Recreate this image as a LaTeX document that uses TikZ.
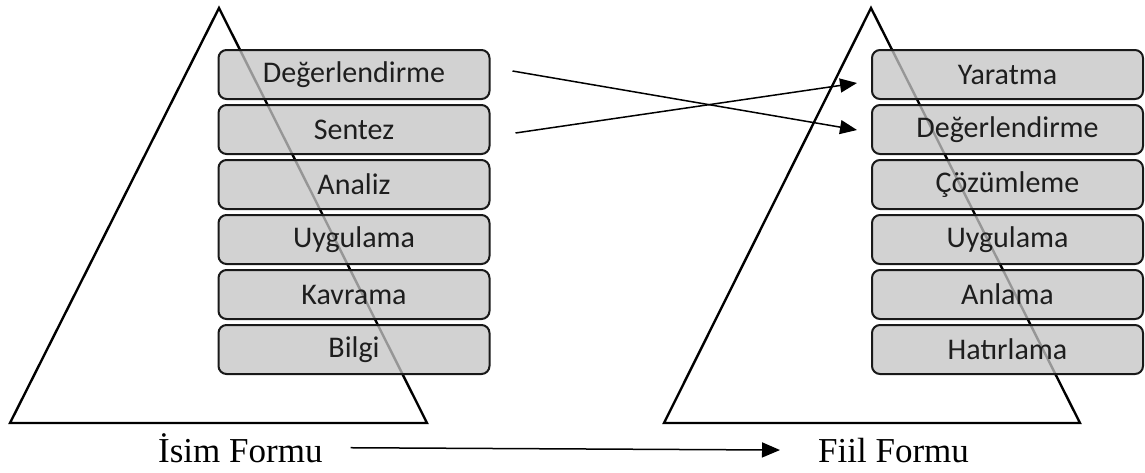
\documentclass[tikz,border=0pt]{standalone}
\usepackage{fontspec}
\setmainfont{Liberation Serif}
\newfontfamily\boxfont{Carlito}
\usetikzlibrary{arrows.meta,calc}
\definecolor{boxfill}{RGB}{196,196,196}
\definecolor{boxline}{RGB}{25,25,25}
\definecolor{boxtext}{RGB}{30,30,30}
\begin{document}
\begin{tikzpicture}[x=1pt,y=-1pt,
  pyramid/.style={draw=black,line width=2.4pt,line join=miter},
  level/.style={draw=boxline,line width=2pt,fill=boxfill,fill opacity=0.77,
    text opacity=1,text=boxtext,rounded corners=8pt,
    minimum width=271pt,minimum height=49pt,inner sep=0pt,
    font=\boxfont\fontsize{30}{36}\selectfont},
  formlabel/.style={inner sep=0pt,font=\fontsize{35}{40}\selectfont},
  link/.style={draw=black,line width=1.5pt,-{Triangle[length=17pt,width=14pt]}},
  formarrow/.style={draw=black,line width=1.5pt,-{Triangle[length=18pt,width=15pt]}}]
\useasboundingbox (0,0) rectangle (1145,472);

% the two pyramids
\draw[pyramid] (219,8) -- (10,423) -- (427,423) -- cycle;
\draw[pyramid] (871,8) -- (664,423) -- (1080,423) -- cycle;

% noun-form levels
\node[level] (l1) at (354,74.5)  {Değerlendirme};
\node[level] (l2) at (354,129.5) {Sentez};
\node[level] (l3) at (354,184.5) {Analiz};
\node[level] (l4) at (354,239.5) {Uygulama};
\node[level] (l5) at (354,294.5) {Kavrama};
\node[level] (l6) at (354,349.5) {Bilgi};

% verb-form levels
\node[level] (r1) at (1007.5,74.5)  {Yaratma};
\node[level] (r2) at (1007.5,129.5) {Değerlendirme};
\node[level] (r3) at (1007.5,184.5) {Çözümleme};
\node[level] (r4) at (1007.5,239.5) {Uygulama};
\node[level] (r5) at (1007.5,294.5) {Anlama};
\node[level] (r6) at (1007.5,349.5) {Hatırlama};

% swapped top levels
\draw[link] ($(l1.east)+(22,-3.5)$) -- ($(r2.west)+(-14,0.5)$);
\draw[link] ($(l2.east)+(25,3.5)$) -- ($(r1.west)+(-14,8.5)$);

% form labels
\node[formlabel,anchor=base west] (isim) at (158,462) {İsim Formu};
\node[formlabel,anchor=base west] (fiil) at (818,462) {Fiil Formu};
\draw[formarrow] ($(isim.east)+(28,0)$) coordinate (fa) -- ($(fiil.west)+(-38,0)$);
\end{tikzpicture}
\end{document}
